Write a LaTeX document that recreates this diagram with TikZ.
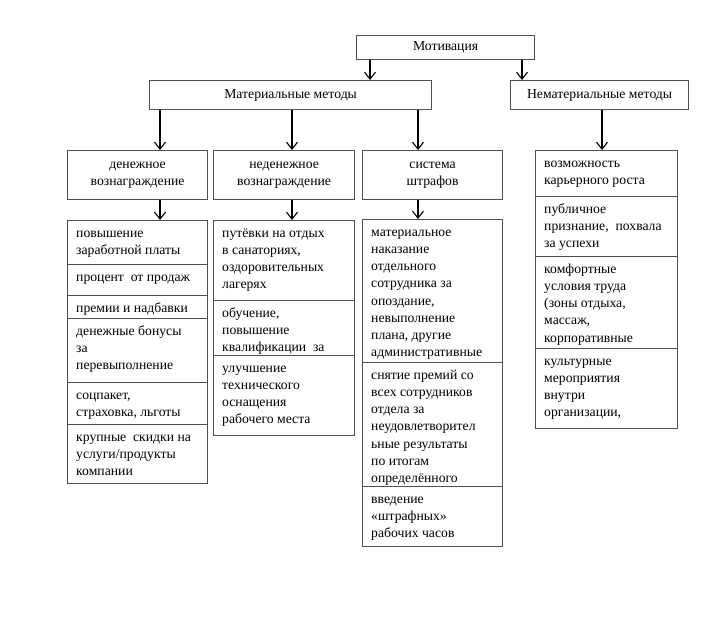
\documentclass[tikz,border=0pt]{standalone}
\usepackage{fontspec}
\setmainfont{Liberation Serif}
\usetikzlibrary{arrows.meta}
\definecolor{boxgray}{HTML}{505050}
\newcommand{\fs}{\fontsize{13.7}{17.2}\selectfont}
\tikzset{
  box/.style={draw=boxgray, line width=1.2pt, fill=white, inner sep=0pt, anchor=north west},
  hdr/.style={box, font=\fs, align=center},
  itxt/.style={anchor=north west, inner sep=0pt, align=left, font=\fs},
  arr/.style={-{Straight Barb[length=7pt,width=11pt]}, line width=1.1pt, draw=black}
}
\begin{document}
\begin{tikzpicture}[x=1pt,y=-1pt]
\useasboundingbox (0,0) rectangle (724,623);
% top level
\node[hdr, minimum width=178, minimum height=24] (mot) at (356,35) {Мотивация};
\node[hdr, minimum width=282, minimum height=29] (mat) at (149,80) {Материальные методы};
\node[hdr, minimum width=178, minimum height=29] (nemat) at (510,80) {Нематериальные методы};
% column headers
\node[hdr, minimum width=140, minimum height=49] (c1) at (67,150) {денежное\\вознаграждение};
\node[hdr, minimum width=141, minimum height=49] (c2) at (213,150) {неденежное\\вознаграждение};
\node[hdr, minimum width=140, minimum height=49] (c3) at (362,150) {система\\штрафов};
% column 1 items
\node[box, minimum width=140, minimum height=44] (a1) at (67,220) {};
\node[itxt] at ([xshift=9,yshift=-5]a1.north west) {\strut повышение\\заработной платы};
\node[box, minimum width=140, minimum height=31] (a2) at (67,264) {};
\node[itxt] at ([xshift=9,yshift=-5]a2.north west) {\strut процент\ \ от продаж};
\node[box, minimum width=140, minimum height=23] (a3) at (67,295) {};
\node[itxt] at ([xshift=9,yshift=-5]a3.north west) {\strut премии и надбавки};
\node[box, minimum width=140, minimum height=64] (a4) at (67,318) {};
\node[itxt] at ([xshift=9,yshift=-5]a4.north west) {\strut денежные бонусы\\за\\перевыполнение};
\node[box, minimum width=140, minimum height=42] (a5) at (67,382) {};
\node[itxt] at ([xshift=9,yshift=-5]a5.north west) {\strut соцпакет,\\страховка, льготы};
\node[box, minimum width=140, minimum height=59] (a6) at (67,424) {};
\node[itxt] at ([xshift=9,yshift=-5]a6.north west) {\strut крупные\ \ скидки на\\услуги/продукты\\компании};
% column 2 items
\node[box, minimum width=141, minimum height=80] (b1) at (213,220) {};
\node[itxt] at ([xshift=9,yshift=-5]b1.north west) {\strut путёвки на отдых\\в санаториях,\\оздоровительных\\лагерях};
\node[box, minimum width=141, minimum height=55] (b2) at (213,300) {};
\node[itxt] at ([xshift=9,yshift=-5]b2.north west) {\strut обучение,\\повышение\\квалификации\ \ за};
\node[box, minimum width=141, minimum height=80] (b3) at (213,355) {};
\node[itxt] at ([xshift=9,yshift=-5]b3.north west) {\strut улучшение\\технического\\оснащения\\рабочего места};
% column 3 items
\node[box, minimum width=140, minimum height=143] (d1) at (362,219) {};
\node[itxt] at ([xshift=9,yshift=-5]d1.north west) {\strut материальное\\наказание\\отдельного\\сотрудника за\\опоздание,\\невыполнение\\плана,\ другие\\административные};
\node[box, minimum width=140, minimum height=124] (d2) at (362,362) {};
\node[itxt] at ([xshift=9,yshift=-5]d2.north west) {\strut снятие премий со\\всех сотрудников\\отдела за\\неудовлетворител\\ьные результаты\\по итогам\\определённого};
\node[box, minimum width=140, minimum height=60] (d3) at (362,486) {};
\node[itxt] at ([xshift=9,yshift=-5]d3.north west) {\strut введение\\«штрафных»\\рабочих часов};
% column 4 items
\node[box, minimum width=142, minimum height=46] (e1) at (535,150) {};
\node[itxt] at ([xshift=9,yshift=-5]e1.north west) {\strut возможность\\карьерного роста};
\node[box, minimum width=142, minimum height=60] (e2) at (535,196) {};
\node[itxt] at ([xshift=9,yshift=-5]e2.north west) {\strut публичное\\признание,\ \ похвала\\за успехи};
\node[box, minimum width=142, minimum height=92] (e3) at (535,256) {};
\node[itxt] at ([xshift=9,yshift=-5]e3.north west) {\strut комфортные\\условия труда\\(зоны отдыха,\\массаж,\\корпоративные};
\node[box, minimum width=142, minimum height=80] (e4) at (535,348) {};
\node[itxt] at ([xshift=9,yshift=-5]e4.north west) {\strut культурные\\мероприятия\\внутри\\организации,};
% arrow x positions
\coordinate (xa) at (370,0);
\coordinate (xb) at (522,0);
\coordinate (x1) at (160,0);
\coordinate (x2) at (292,0);
\coordinate (x3) at (418,0);
\coordinate (x4) at (602,0);
% arrows
\draw[arr] (mot.south -| xa) -- (mat.north -| xa);
\draw[arr] (mot.south -| xb) -- (nemat.north -| xb);
\draw[arr] (mat.south -| x1) -- (c1.north -| x1);
\draw[arr] (mat.south -| x2) -- (c2.north -| x2);
\draw[arr] (mat.south -| x3) -- (c3.north -| x3);
\draw[arr] (nemat.south -| x4) -- (e1.north -| x4);
\draw[arr] (c1.south -| x1) -- (a1.north -| x1);
\draw[arr] (c2.south -| x2) -- (b1.north -| x2);
\draw[arr] (c3.south -| x3) -- (d1.north -| x3);
\end{tikzpicture}
\end{document}
